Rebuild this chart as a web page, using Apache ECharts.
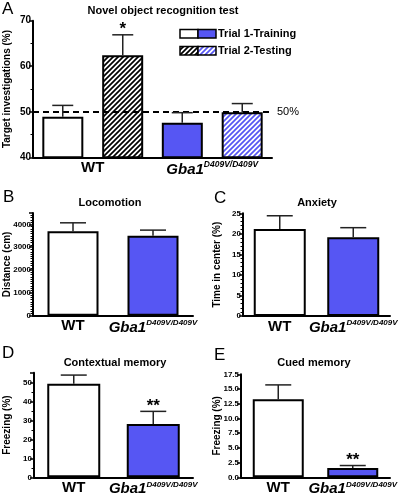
<!DOCTYPE html>
<html>
<head>
<meta charset="utf-8">
<script src="https://cdn.jsdelivr.net/npm/echarts@6/dist/echarts.min.js"></script>
<style>html,body{margin:0;padding:0;background:#fff}#c{width:408px;height:496px}</style>
</head>
<body>
<div id="c"></div>
<script>
// ---------- data ----------
const categories = ['WT', 'Gba1'];
const genotypeSup = 'D409V/D409V';
// Panel A: Novel object recognition test
const trainA = [48.9, 47.6];
const trainErrA = [2.5, 2.2];
const testA = [62.4, 49.9];
const testErrA = [4.5, 1.9];
const sigTestA = ['*', ''];
const chanceA = 50;
const ticksA = [40, 50, 60, 70];
// Panel B: Locomotion
const locoB = [3700, 3500];
const locoErrB = [370, 250];
const ticksB = [0, 1000, 2000, 3000, 4000];
// Panel C: Anxiety
const anxC = [21.2, 19.2];
const anxErrC = [3.2, 2.3];
const ticksC = [0, 5, 10, 15, 20, 25];
// Panel D: Contextual memory
const ctxD = [49.3, 28.0];
const ctxErrD = [4.5, 6.7];
const sigD = ['', '**'];
const ticksD = [0, 10, 20, 30, 40, 50];
// Panel E: Cued memory
const cueE = [13.25, 1.6];
const cueErrE = [2.45, 0.4];
const sigE = ['', '**'];
const ticksE = [0, 2.5, 5, 7.5, 10, 12.5, 15, 17.5];

// ---------- styles ----------
const FONT = 'Liberation Sans, Arial, sans-serif';
const BLUE = '#5656f3';
function hatch(bg, fg) {
  const s = 5;
  const c = document.createElement('canvas');
  c.width = s; c.height = s;
  const g = c.getContext('2d');
  g.fillStyle = bg; g.fillRect(0, 0, s, s);
  g.strokeStyle = fg; g.lineWidth = 1.7;
  g.beginPath();
  g.moveTo(-1, s + 1); g.lineTo(s + 1, -1);
  g.moveTo(-1, 1); g.lineTo(1, -1);
  g.moveTo(s - 1, s + 1); g.lineTo(s + 1, s - 1);
  g.stroke();
  return { image: c, repeat: 'repeat' };
}
const hatchBW = hatch('#ffffff', '#000000');
const hatchBlue = hatch('#ffffff', BLUE);
const groupColors = ['#ffffff', BLUE];
const groupHatch = [hatchBW, hatchBlue];

const gridBase = { containLabel: false, outerBoundsMode: 'none' };
const grids = [
  Object.assign({ left: 33, right: 136, top: 20.7, height: 136.6 }, gridBase),   // A
  Object.assign({ left: 33, right: 215, top: 213.0, height: 102.7 }, gridBase),  // B
  Object.assign({ left: 243, right: 18, top: 213.3, height: 102.7 }, gridBase),  // C
  Object.assign({ left: 34, right: 215, top: 372.8, height: 104.5 }, gridBase),  // D
  Object.assign({ left: 241, right: 18, top: 374.3, height: 103.0 }, gridBase)   // E
];

function xAxisFor(i, supSize) {
  return {
    type: 'category', gridIndex: i, data: categories,
    axisLine: { lineStyle: { color: '#000', width: 2 } },
    axisTick: { show: false },
    axisLabel: {
      margin: 3, interval: 0, hideOverlap: false,
      formatter: v => v === 'WT' ? '{w|WT}' : '{g|' + v + '}{s|' + genotypeSup + '}',
      rich: {
        w: { fontFamily: FONT, fontSize: 15, fontWeight: 'bold', color: '#000' },
        g: { fontFamily: FONT, fontSize: 15, fontWeight: 'bold', fontStyle: 'italic', color: '#000' },
        s: { fontFamily: FONT, fontSize: supSize, fontWeight: 'bold', fontStyle: 'italic', color: '#000', padding: [0, 0, 10, 0] }
      }
    }
  };
}
function yAxisFor(i, ticks, max, minorSplit, name, nameGap, fmt) {
  return {
    type: 'value', gridIndex: i, min: ticks[0], max: max,
    interval: ticks[1] - ticks[0],
    name: name, nameLocation: 'middle', nameGap: nameGap, nameMoveOverlap: false,
    nameTextStyle: { fontFamily: FONT, fontSize: 10, fontWeight: 'bold', color: '#000' },
    splitLine: { show: false },
    axisLine: { show: true, lineStyle: { color: '#000', width: 2 } },
    axisTick: { show: true, length: 4, lineStyle: { color: '#000', width: 1.5 } },
    minorTick: { show: minorSplit > 1, splitNumber: minorSplit, length: 2.5, lineStyle: { color: '#000', width: 1 } },
    axisLabel: {
      margin: 2, fontFamily: FONT, fontSize: i === 0 ? 10 : 8, fontWeight: 'bold', color: '#000',
      showMaxLabel: ticks.indexOf(max) >= 0,
      formatter: fmt || (v => String(v))
    }
  };
}

function barSeries(i, vals, colors, width, gap) {
  return {
    type: 'bar', xAxisIndex: i, yAxisIndex: i, barWidth: width, barGap: gap,
    data: vals.map((v, k) => ({ value: v, itemStyle: { color: colors[k] } })),
    itemStyle: { borderColor: '#000', borderWidth: 2 },
    silent: true, animation: false, z: 2
  };
}
function errSeries(i, vals, errs, sigs, offset, capW) {
  return {
    type: 'custom', xAxisIndex: i, yAxisIndex: i, z: 5, silent: true, animation: false,
    data: vals.map((v, k) => [k, v, errs[k]]),
    renderItem: (params, api) => {
      const k = api.value(0);
      const x = api.coord([k, 0])[0] + offset;
      const yBase = api.coord([k, api.value(1)])[1];
      const yTop = api.coord([k, api.value(1) + api.value(2)])[1];
      const st = { stroke: '#222', lineWidth: 1.5 };
      const children = [
        { type: 'line', shape: { x1: x, y1: yBase, x2: x, y2: yTop }, style: st },
        { type: 'line', shape: { x1: x - capW / 2, y1: yTop, x2: x + capW / 2, y2: yTop }, style: st }
      ];
      const s = sigs ? sigs[params.dataIndex] : '';
      if (s) {
        children.push({ type: 'text', x: x, y: yTop + 3,
          style: { text: s, fontFamily: FONT, fontSize: 17, fontWeight: 'bold', fill: '#000', align: 'center', verticalAlign: 'bottom' } });
      }
      return { type: 'group', children: children };
    }
  };
}

const titleStyle = { fontFamily: FONT, fontSize: 11, fontWeight: 'bold', color: '#000' };
const letterStyle = (t, x, y) => ({ type: 'text', left: x, top: y, style: { text: t, fontFamily: FONT, fontSize: 17, fill: '#000' } });
const legendText = (t, y) => ({ type: 'text', left: 218, top: y, style: { text: t, fontFamily: FONT, fontSize: 11, fontWeight: 'bold', fill: '#000' } });
const legendBox = (x, y, fill) => ({ type: 'rect', shape: { x: x, y: y, width: 18, height: 8.5 }, style: { fill: fill, stroke: '#000', lineWidth: 1.5 } });

const option = {
  animation: false,
  grid: grids,
  title: [
    { text: 'Novel object recognition test', left: 158, top: 0, textAlign: 'center', textStyle: titleStyle },
    { text: 'Locomotion', left: 105, top: 192, textAlign: 'center', textStyle: titleStyle },
    { text: 'Anxiety', left: 312, top: 192, textAlign: 'center', textStyle: titleStyle },
    { text: 'Contextual memory', left: 110, top: 352, textAlign: 'center', textStyle: titleStyle },
    { text: 'Cued memory', left: 309, top: 352, textAlign: 'center', textStyle: titleStyle }
  ],
  xAxis: [xAxisFor(0, 8.5), xAxisFor(1, 8), xAxisFor(2, 8), xAxisFor(3, 8), xAxisFor(4, 8)],
  yAxis: [
    yAxisFor(0, ticksA, 70, 2, 'Target investigations (%)', 21),
    yAxisFor(1, ticksB, 4500, 10, 'Distance (cm)', 21),
    yAxisFor(2, ticksC, 25, 5, 'Time in center (%)', 21),
    yAxisFor(3, ticksD, 55, 2, 'Freezing (%)', 22),
    yAxisFor(4, ticksE, 17.5, 1, 'Freezing (%)', 18.5, v => v.toFixed(1))
  ],
  series: [
    Object.assign(barSeries(0, trainA, groupColors, 41, '46%'), {
      markLine: {
        silent: true, symbol: 'none', animation: false,
        lineStyle: { color: '#000', type: [6, 4], width: 2 },
        label: { position: 'end', formatter: '50%', fontFamily: FONT, fontSize: 11, color: '#000', distance: 5 },
        data: [{ yAxis: chanceA }]
      }
    }),
    barSeries(0, testA, groupHatch, 41, '46%'),
    errSeries(0, trainA, trainErrA, null, -30, 21),
    errSeries(0, testA, testErrA, sigTestA, 30, 21),
    barSeries(1, locoB, groupColors, 51, '0%'),
    errSeries(1, locoB, locoErrB, null, 0, 26),
    barSeries(2, anxC, groupColors, 52, '0%'),
    errSeries(2, anxC, anxErrC, null, 0, 26),
    barSeries(3, ctxD, groupColors, 53, '0%'),
    errSeries(3, ctxD, ctxErrD, sigD, 0, 26),
    barSeries(4, cueE, groupColors, 51, '0%'),
    errSeries(4, cueE, cueErrE, sigE, 0, 26)
  ],
  graphic: [
    letterStyle('A', 2, 1),
    letterStyle('B', 3, 189),
    letterStyle('C', 214, 190),
    letterStyle('D', 2, 345),
    letterStyle('E', 214, 347),
    legendBox(180, 29.5, '#ffffff'),
    legendBox(198, 29.5, BLUE),
    legendBox(180, 46.5, hatchBW),
    legendBox(198, 46.5, hatchBlue),
    legendText('Trial 1-Training', 28),
    legendText('Trial 2-Testing', 45)
  ]
};
const chart = echarts.init(document.getElementById('c'), null, { renderer: 'canvas' });
chart.setOption(option);
</script>
</body>
</html>
